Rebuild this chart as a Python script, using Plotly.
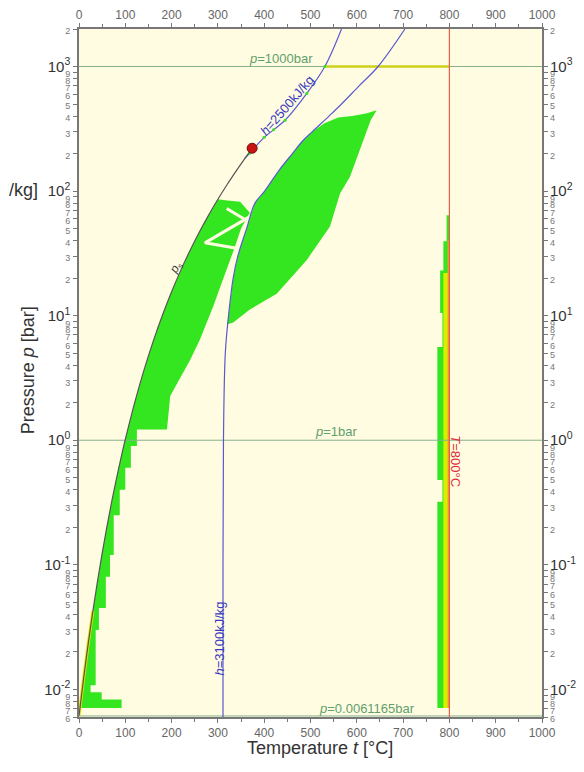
import numpy as np
import plotly.graph_objects as go

# ---------------- data ----------------
# vapour-pressure curve p_s(t)  [°C, bar]
sat_t = [0.01, 10, 20, 30, 40, 50, 60, 70, 80, 90, 100, 120, 140, 160, 180, 200,
         220, 240, 260, 280, 300, 320, 340, 360, 373.946]
sat_p = [0.006117, 0.012282, 0.023393, 0.04247, 0.073849, 0.12352, 0.19946, 0.31201,
         0.47414, 0.70182, 1.01418, 1.9867, 3.6154, 6.1823, 10.028, 15.549, 23.196,
         33.469, 46.923, 64.166, 85.879, 112.92, 146.01, 186.66, 220.64]

# critical point
crit_t = [373.946]
crit_p = [220.64]

# isenthalps
h2500_t = [357.5, 368, 380, 400, 420, 445, 492, 531, 567]
h2500_p = [182, 200, 225, 270, 310, 370, 608, 1000, 2000]
h3100_t = [311, 311, 312, 316, 323, 333, 343, 362, 380, 401, 434, 461, 482, 504,
           540, 567, 605, 646, 704]
h3100_p = [0.006, 0.1, 1, 5, 10, 20, 30, 50, 80, 100, 150, 200, 250, 300, 400,
           500, 700, 1000, 2000]

# reference isobars / isotherm
p_top, p_one, p_triple = 1000, 1, 0.0061165
t_max = 800

# computed-state point clouds (outlines)
band_t = [2, 10, 20, 30, 40, 50, 60, 70, 80, 90, 100, 120, 140, 160, 180, 200, 220,
          240, 260, 280, 300, 320, 348, 369, 350, 336, 326, 305, 290, 275, 261, 240,
          215, 197, 190, 125, 125, 112, 112, 100, 100, 88, 88, 75, 75, 67, 67, 58, 58,
          43, 43, 36, 36, 25, 25, 49, 49, 92, 92]
band_p = [0.0071, 0.0123, 0.0234, 0.0425, 0.0738, 0.1235, 0.1995, 0.312, 0.474, 0.702,
          1.014, 1.987, 3.615, 6.18, 10.03, 15.55, 23.2, 33.5, 46.9, 64.2, 85.9, 84, 82,
          67, 50, 35, 28, 17, 11.9, 8.5, 6.4, 4.4, 3.0, 2.26, 1.22, 1.22, 0.9, 0.9,
          0.6, 0.6, 0.4, 0.4, 0.25, 0.25, 0.12, 0.12, 0.08, 0.08, 0.045, 0.045, 0.03,
          0.03, 0.0108, 0.0108, 0.0095, 0.0095, 0.0083, 0.0083, 0.0071]

# gaps (white streaks) inside the saturated band
gap1_t = [369, 272, 362]
gap1_p = [62.3, 38.4, 33.7]
gap2_t = [319, 362]
gap2_p = [72.5, 58]

fan_t = [320, 323, 333, 343, 362, 380, 401, 434, 461, 482, 504, 530, 560, 590, 620,
         643, 630, 615, 600, 585, 564, 542, 492, 427, 369, 333]
fan_p = [8.5, 10, 20, 30, 50, 80, 100, 150, 200, 250, 300, 350, 390, 400, 420,
         445, 370, 260, 180, 130, 96, 52, 28, 15, 11.2, 8.8]

strip_t = [774, 774, 785, 785, 774, 774, 785, 785, 780, 780, 787, 787, 794, 794, 800, 800]
strip_p = [0.0071, 0.32, 0.32, 0.48, 0.48, 5.6, 5.6, 10.5, 10.5, 23, 23, 39.5, 39.5,
           64, 64, 0.0071]
strip_y_t = [787, 787, 797, 797]
strip_y_p = [0.0071, 22, 22, 0.0071]
strip_o_t = [796, 796, 800, 800]
strip_o_p = [0.0071, 40, 40, 0.0071]

top_line_t = [531, 800]

# axis ticks
x_ticks = list(range(0, 1001, 100))
decades = [-3, -2, -1, 0, 1, 2, 3]
mant = [1, 2, 3, 4, 5, 6, 7, 8, 9]

# ---------------- figure ----------------
GREEN = "#33e61f"
BG = "#fffce1"
fig = go.Figure()

def poly(tt, pp, color):
    fig.add_trace(go.Scatter(x=tt, y=pp, fill="toself", fillcolor=color, mode="lines",
                             line=dict(width=0, color=color), hoverinfo="skip",
                             showlegend=False))

poly(band_t, band_p, GREEN)
for gt, gp in ((gap1_t, gap1_p), (gap2_t, gap2_p)):
    fig.add_trace(go.Scatter(x=gt, y=gp, mode="lines", line=dict(color=BG, width=3),
                             hoverinfo="skip", showlegend=False))
poly(fan_t, fan_p, GREEN)
poly(strip_t, strip_p, GREEN)
poly(strip_y_t, strip_y_p, "#d8f000")
poly(strip_o_t, strip_o_p, "#f4a020")

# isobars
for pv in (p_top, p_one, p_triple):
    fig.add_trace(go.Scatter(x=[0, 1000], y=[pv, pv], mode="lines",
                             line=dict(color="#86b08e", width=1), showlegend=False,
                             hoverinfo="skip"))
# yellow 1000-bar segment
fig.add_trace(go.Scatter(x=top_line_t, y=[p_top, p_top], mode="lines",
                         line=dict(color="#ccd21a", width=2.5), showlegend=False))
# isotherm 800 °C
fig.add_trace(go.Scatter(x=[t_max, t_max], y=[0.006, 2000], mode="lines",
                         line=dict(color="#e8604c", width=1.2), showlegend=False))

# isenthalps
fig.add_trace(go.Scatter(x=h3100_t, y=h3100_p, mode="lines", line_shape="spline",
                         line=dict(color="#5a5ad0", width=1.2), showlegend=False))
fig.add_trace(go.Scatter(x=h2500_t, y=h2500_p, mode="lines", line_shape="spline",
                         line=dict(color="#5a5ad0", width=1.2), showlegend=False))
fig.add_trace(go.Scatter(x=h2500_t[1:-1], y=h2500_p[1:-1], mode="markers",
                         marker=dict(color=GREEN, size=3), showlegend=False))

# yellow tint along the low-temperature end of the saturation curve
fig.add_trace(go.Scatter(x=sat_t[:4], y=sat_p[:4], mode="lines", line_shape="spline",
                         line=dict(color="#e8e000", width=3), showlegend=False))
# saturation curve
fig.add_trace(go.Scatter(x=sat_t, y=sat_p, mode="lines", line_shape="spline",
                         line=dict(color="#555555", width=1.2), showlegend=False))
# critical point
fig.add_trace(go.Scatter(x=crit_t, y=crit_p, mode="markers",
                         marker=dict(color="#c81414", size=10,
                                     line=dict(color="#701010", width=1)),
                         showlegend=False))

# dummy trace for the mirrored top/right labelled axes
fig.add_trace(go.Scatter(x=[None], y=[None], xaxis="x2", yaxis="y2", showlegend=False))

# y tick values / labels
y_vals, y_text = [], []
for e in decades:
    for m in mant:
        v = m * 10.0 ** e
        if v < 0.006 * 0.999 or v > 2000 * 1.001:
            continue
        y_vals.append(v)
        if m == 1:
            y_text.append("10<sup>%d</sup>" % e)
        else:
            y_text.append("<span style='font-size:9px;color:#777'>%d</span>" % m)

yr = [np.log10(0.006), np.log10(2000)]
FONT = "Liberation Sans, Arial, sans-serif"

# the page body adds an 8px offset, so the figure is 16px smaller than the window
fig.update_layout(
    width=576, height=764,
    margin=dict(l=71, r=42, t=21, b=55, autoexpand=False),
    paper_bgcolor="white",
    plot_bgcolor=BG,
    font=dict(family=FONT, color="#444"),
    showlegend=False,
    xaxis=dict(range=[0, 1000], tickvals=x_ticks, ticks="outside", ticklen=4,
               tickcolor="#777", showline=True, linecolor="#777", linewidth=1.5,
               mirror="ticks", showgrid=False, zeroline=False, automargin=False,
               tickfont=dict(size=12, color="#666"),
               minor=dict(ticks="outside", ticklen=3, dtick=50, tickcolor="#777")),
    xaxis2=dict(range=[0, 1000], overlaying="x", side="top", anchor="y",
                tickvals=x_ticks, ticks="outside", ticklen=4, tickcolor="#777",
                showgrid=False, zeroline=False, automargin=False,
                tickfont=dict(size=12, color="#666"),
                minor=dict(ticks="outside", ticklen=3, dtick=50, tickcolor="#777")),
    yaxis=dict(type="log", range=yr, tickvals=y_vals, ticktext=y_text,
               ticks="outside", ticklen=4, tickcolor="#777", showline=True,
               linecolor="#777", linewidth=1.5, mirror="ticks", showgrid=False,
               zeroline=False, automargin=False, tickfont=dict(size=15, color="#333")),
    yaxis2=dict(type="log", range=yr, overlaying="y", side="right", anchor="x",
                tickvals=y_vals, ticktext=y_text, ticks="outside", ticklen=4,
                tickcolor="#777", showgrid=False, zeroline=False, automargin=False,
                tickfont=dict(size=15, color="#333")),
)

L = np.log10
ann = [
    dict(x=436, y=L(p_top), text="<i>p</i>=1000bar", yanchor="bottom", yshift=-1,
         font=dict(size=13, color="#5f9f6f")),
    dict(x=556, y=L(p_one), text="<i>p</i>=1bar", yanchor="bottom", yshift=-1,
         font=dict(size=13, color="#5f9f6f")),
    dict(x=621, y=L(p_triple), text="<i>p</i>=0.0061165bar", yanchor="bottom", yshift=-2,
         font=dict(size=13, color="#5f9f6f")),
    dict(x=449, y=L(488), text="<i>h</i>=2500kJ/kg", textangle=-49,
         font=dict(size=13, color="#3a3ac0")),
    dict(x=304.5, y=L(0.0256), text="<i>h</i>=3100kJ/kg", textangle=-90,
         font=dict(size=13, color="#3a3ac0")),
    dict(x=814, y=L(0.68), text="<i>T</i>=800°C", textangle=90,
         font=dict(size=13, color="#e0303c")),
    dict(x=209.5, y=L(24.2), text="<i>p</i><sub>s</sub>", textangle=-60,
         font=dict(size=12, color="#444")),
    dict(xref="paper", yref="paper", x=0.52, y=-0.045, xanchor="center",
         yanchor="middle", text="Temperature <i>t</i> [°C]",
         font=dict(size=18, color="#333")),
    dict(xref="paper", yref="paper", x=-0.11, y=0.504, xanchor="center",
         yanchor="middle", text="Pressure <i>p</i> [bar]",
         textangle=-90, font=dict(size=18, color="#333")),
    dict(xref="paper", yref="paper", x=-0.085, y=0.766, xanchor="right",
         yanchor="middle", text="[kJ/kg]", font=dict(size=18, color="#333")),
]
for a in ann:
    a.setdefault("showarrow", False)
    fig.add_annotation(**a)

fig.write_html("out.html")
